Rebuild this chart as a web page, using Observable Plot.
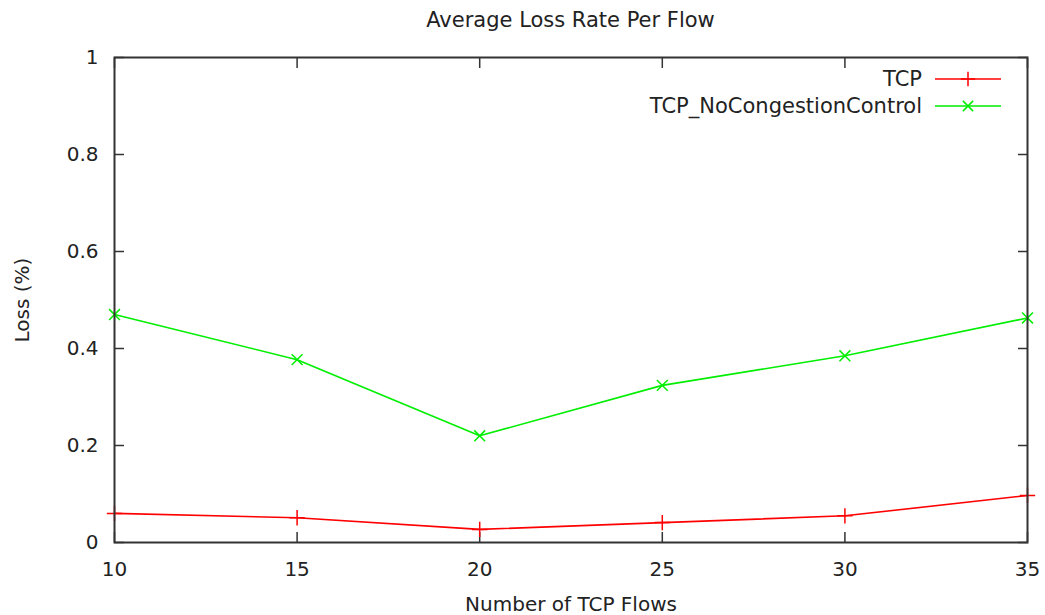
<!DOCTYPE html>
<html><head><meta charset="utf-8">
<script src="https://cdn.jsdelivr.net/npm/d3@7"></script>
<script src="https://cdn.jsdelivr.net/npm/@observablehq/plot@0.6"></script>
<style>
body{margin:0;background:#fff;font-family:"DejaVu Sans",sans-serif;}
#wrap{position:relative;width:1045px;height:615px;overflow:hidden;}
#title{position:absolute;left:114px;width:913px;top:10px;height:38px;text-align:center;font-size:21px;line-height:20px;color:#222;}
#chart{position:absolute;left:0;top:38px;}
#legend{position:absolute;right:44px;top:65px;font-size:21px;color:#222;}
.row{display:flex;align-items:center;justify-content:flex-end;height:27px;}
.row span{margin-right:13px;}
</style>
</head><body>
<div id="wrap">
  <div id="title">Average Loss Rate Per Flow</div>
  <div id="chart"></div>
  <div id="legend"></div>
</div>
<script>
const flows = [10, 15, 20, 25, 30, 35];
const tcp = [0.060, 0.051, 0.027, 0.041, 0.055, 0.097];
const tcpNoCC = [0.470, 0.377, 0.220, 0.324, 0.385, 0.463];
const seriesNames = ["TCP", "TCP_NoCongestionControl"];
const seriesColors = ["#ff0000", "#00ee00"];
const seriesSymbols = ["plus", "times"];
const xTicks = [10, 15, 20, 25, 30, 35];
const yTicks = [0, 0.2, 0.4, 0.6, 0.8, 1];

const data = [];
flows.forEach((f, i) => {
  data.push({flows: f, loss: tcp[i], series: seriesNames[0]});
  data.push({flows: f, loss: tcpNoCC[i], series: seriesNames[1]});
});

const fmt = d => d === 0 ? "0" : d === 1 ? "1" : String(d);

const chart = Plot.plot({
  width: 1045,
  height: 577,
  marginLeft: 114,
  marginRight: 18,
  marginTop: 19,
  marginBottom: 73,
  style: {fontFamily: "DejaVu Sans", fontSize: "20px", color: "#222", background: "#fff"},
  x: {domain: [10, 35]},
  y: {domain: [0, 1]},
  color: {domain: seriesNames, range: seriesColors},
  symbol: {domain: seriesNames, range: seriesSymbols},
  marks: [
    Plot.axisX({anchor: "bottom", ticks: xTicks, tickSize: -10, tickPadding: 29, tickFormat: fmt, stroke: "#333", strokeWidth: 1.5,
      label: "Number of TCP Flows", labelAnchor: "center", labelArrow: "none", labelOffset: 68}),
    Plot.axisX({anchor: "top", ticks: xTicks, tickSize: -10, tickFormat: null, text: null, stroke: "#333", strokeWidth: 1.5, label: null}),
    Plot.axisY({anchor: "left", ticks: yTicks, tickSize: -10, tickPadding: 26, tickFormat: fmt, stroke: "#333", strokeWidth: 1.5,
      label: "Loss (%)", labelAnchor: "center", labelArrow: "none", labelOffset: 100}),
    Plot.axisY({anchor: "right", ticks: yTicks, tickSize: -10, text: null, stroke: "#333", strokeWidth: 1.5, label: null}),
    Plot.line(data, {x: "flows", y: "loss", z: "series", stroke: "series", strokeWidth: 1.6}),
    Plot.dot(data, {x: "flows", y: "loss", symbol: "series", stroke: "series", r: 5, strokeWidth: 1.5}),
    Plot.frame({stroke: "#333", strokeWidth: 2})
  ]
});
document.getElementById("chart").appendChild(chart);

// legend (gnuplot-style key, inside top-right)
const leg = d3.select("#legend");
seriesNames.forEach((name, i) => {
  const row = leg.append("div").attr("class", "row");
  row.append("span").text(name);
  const s = row.append("svg").attr("width", 66).attr("height", 20);
  s.append("line").attr("x1", 0).attr("x2", 66).attr("y1", 10).attr("y2", 10)
    .attr("stroke", seriesColors[i]).attr("stroke-width", 1.6);
  const sym = seriesSymbols[i] === "plus" ? d3.symbolPlus : d3.symbolTimes;
  s.append("path").attr("d", d3.symbol(sym, 70)()).attr("transform", "translate(33,10)")
    .attr("fill", "none").attr("stroke", seriesColors[i]).attr("stroke-width", 1.5);
});
</script>
</body></html>
